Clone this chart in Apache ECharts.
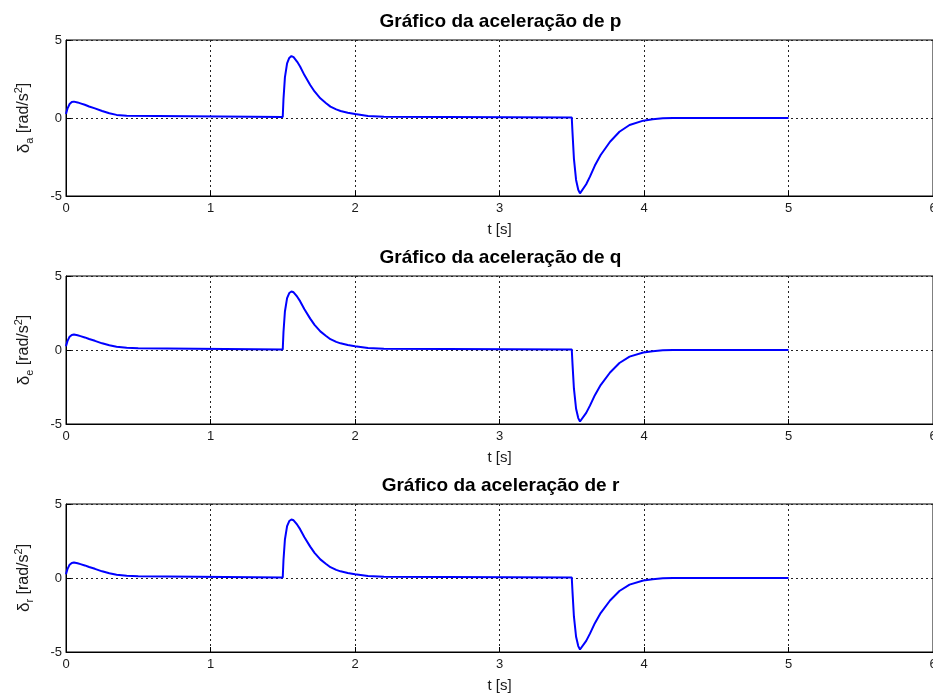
<!DOCTYPE html>
<html>
<head>
<meta charset="utf-8">
<script src="https://cdn.jsdelivr.net/npm/echarts@6/dist/echarts.min.js"></script>
<style>
  html, body { margin: 0; padding: 0; background: #fff; }
  #chart { width: 933px; height: 698px; }
</style>
</head>
<body>
<div id="chart"></div>
<script>
// Angular acceleration responses of p, q and r (time in s, values in rad/s^2)
const titles = ['Gráfico da aceleração de p', 'Gráfico da aceleração de q', 'Gráfico da aceleração de r'];
const subs = ['a', 'e', 'r'];
const xTicks = [0, 1, 2, 3, 4, 5, 6];
const yTicks = [-5, 0, 5];

const tP = [0, 0.01, 0.025, 0.04, 0.055, 0.08, 0.1, 0.13, 0.16, 0.2, 0.25, 0.3, 0.35, 0.42, 0.421,
  1.5, 1.505, 1.515, 1.53, 1.545, 1.56, 1.575, 1.6, 1.62, 1.65, 1.69, 1.72, 1.76, 1.8, 1.83, 1.87, 1.9, 1.95, 2.0, 2.09, 2.2, 2.201,
  3.5, 3.505, 3.515, 3.53, 3.545, 3.557, 3.57, 3.6, 3.626, 3.66, 3.7, 3.765, 3.83, 3.9, 3.995, 4.06, 4.13, 4.2, 5.0];
const vP = [0.25, 0.6, 0.9, 1.02, 1.05, 1.0, 0.94, 0.85, 0.74, 0.62, 0.45, 0.3, 0.2, 0.15, 0.06,
  0.06, 1.2, 2.6, 3.5, 3.85, 3.97, 3.9, 3.6, 3.3, 2.75, 2.12, 1.7, 1.26, 0.95, 0.73, 0.55, 0.45, 0.34, 0.26, 0.13, 0.08, 0.04,
  0.04, -0.9, -2.6, -3.97, -4.6, -4.83, -4.75, -4.25, -3.76, -3.05, -2.37, -1.52, -0.88, -0.45, -0.17, -0.08, -0.02, 0, 0];

const tQ = [0, 0.01, 0.025, 0.04, 0.055, 0.08, 0.1, 0.13, 0.16, 0.2, 0.25, 0.3, 0.35, 0.42, 0.5, 0.501,
  1.5, 1.505, 1.515, 1.53, 1.545, 1.56, 1.575, 1.6, 1.62, 1.65, 1.69, 1.72, 1.76, 1.8, 1.83, 1.87, 1.9, 1.95, 2.0, 2.09, 2.2, 2.201,
  3.5, 3.505, 3.515, 3.53, 3.545, 3.557, 3.57, 3.6, 3.626, 3.66, 3.7, 3.765, 3.83, 3.9, 3.995, 4.06, 4.13, 4.2, 5.0];
const vQ = [0.25, 0.6, 0.9, 1.02, 1.05, 1.0, 0.94, 0.85, 0.74, 0.62, 0.45, 0.32, 0.22, 0.15, 0.12, 0.04,
  0.04, 1.2, 2.6, 3.5, 3.85, 3.95, 3.9, 3.6, 3.3, 2.75, 2.12, 1.7, 1.26, 0.95, 0.73, 0.55, 0.45, 0.34, 0.26, 0.13, 0.08, 0.04,
  0.04, -0.9, -2.6, -3.97, -4.6, -4.83, -4.75, -4.25, -3.76, -3.05, -2.37, -1.52, -0.88, -0.45, -0.17, -0.08, -0.02, 0, 0];

const tR = [0, 0.01, 0.025, 0.04, 0.055, 0.08, 0.1, 0.13, 0.16, 0.2, 0.25, 0.3, 0.35, 0.42, 0.5, 0.501,
  1.5, 1.505, 1.515, 1.53, 1.545, 1.56, 1.575, 1.6, 1.62, 1.65, 1.69, 1.72, 1.76, 1.8, 1.83, 1.87, 1.9, 1.95, 2.0, 2.09, 2.2, 2.201,
  3.5, 3.505, 3.515, 3.53, 3.545, 3.557, 3.57, 3.6, 3.626, 3.66, 3.7, 3.765, 3.83, 3.9, 3.995, 4.06, 4.13, 4.2, 5.0];
const vR = [0.25, 0.6, 0.9, 1.02, 1.05, 1.0, 0.94, 0.85, 0.74, 0.62, 0.45, 0.32, 0.22, 0.15, 0.12, 0.04,
  0.04, 1.2, 2.6, 3.5, 3.85, 3.95, 3.9, 3.6, 3.3, 2.75, 2.12, 1.7, 1.26, 0.95, 0.73, 0.55, 0.45, 0.34, 0.26, 0.13, 0.08, 0.04,
  0.04, -0.9, -2.6, -3.97, -4.6, -4.83, -4.75, -4.25, -3.76, -3.05, -2.37, -1.52, -0.88, -0.45, -0.17, -0.08, -0.02, 0, 0];

const seriesT = [tP, tQ, tR];
const seriesV = [vP, vQ, vR];

const FONT = '"Liberation Sans", Arial, sans-serif';
const panels = [
  { top: 40, height: 156 },
  { top: 276, height: 148 },
  { top: 504, height: 148 }
];
const plotLeft = 66;
const plotWidth = 867;
const centerX = plotLeft + plotWidth / 2 - 4;

const chart = echarts.init(document.getElementById('chart'), null, { renderer: 'canvas' });

const dotted = { color: '#222', width: 1, type: [2, 3] };
const TXT = '#1a1a1a';

const option = {
  animation: false,
  backgroundColor: '#fff',
  title: titles.map((txt, i) => ({
    text: txt,
    left: centerX,
    top: panels[i].top - 33,
    textAlign: 'center',
    textStyle: { fontFamily: FONT, fontWeight: 'bold', fontSize: 19, color: '#000' }
  })),
  grid: panels.map(p => ({
    left: plotLeft, top: p.top, width: plotWidth, height: p.height,
    outerBoundsMode: 'none', containLabel: false,
    show: true, borderColor: '#000', borderWidth: 1, backgroundColor: '#fff'
  })),
  xAxis: panels.map((p, i) => ({
    type: 'value', gridIndex: i,
    min: xTicks[0], max: xTicks[xTicks.length - 1], interval: 1,
    name: 't [s]', nameLocation: 'middle', nameGap: 26,
    nameTextStyle: { fontFamily: FONT, fontSize: 15, color: TXT },
    axisLine: { show: true, onZero: false, lineStyle: { color: '#000', width: 1 } },
    axisTick: { show: true, inside: true, length: 5, lineStyle: { color: '#000' } },
    axisLabel: { fontFamily: FONT, fontSize: 13, color: TXT, margin: 6 },
    splitLine: { show: true, lineStyle: dotted }
  })),
  yAxis: panels.map((p, i) => ({
    type: 'value', gridIndex: i,
    min: yTicks[0], max: yTicks[yTicks.length - 1], interval: 5,
    name: '{g|δ}{s|' + subs[i] + '}{n| [rad/s}{p|2}{n|]}',
    nameLocation: 'middle', nameGap: 31, nameRotate: 90,
    nameTextStyle: {
      fontFamily: FONT, color: TXT,
      rich: {
        g: { fontFamily: FONT, fontSize: 17, color: TXT },
        n: { fontFamily: FONT, fontSize: 16, color: TXT },
        s: { fontFamily: FONT, fontSize: 11, color: TXT, verticalAlign: 'bottom', padding: [11, 0, 0, 0] },
        p: { fontFamily: FONT, fontSize: 11, color: TXT, verticalAlign: 'top', padding: [0, 0, 11, 0] }
      }
    },
    axisLine: { show: true, onZero: false, lineStyle: { color: '#000', width: 1 } },
    axisTick: { show: true, inside: true, length: 5, lineStyle: { color: '#000' } },
    axisLabel: { fontFamily: FONT, fontSize: 13, color: TXT, margin: 4 },
    splitLine: { show: true, lineStyle: dotted }
  })),
  series: seriesT.map((ts, i) => ({
    type: 'line', xAxisIndex: i, yAxisIndex: i,
    data: ts.map((t, k) => [t, seriesV[i][k]]),
    showSymbol: false, symbol: 'none',
    lineStyle: { color: '#0000ff', width: 2 },
    clip: true, z: 3
  }))
};

chart.setOption(option);
</script>
</body>
</html>
